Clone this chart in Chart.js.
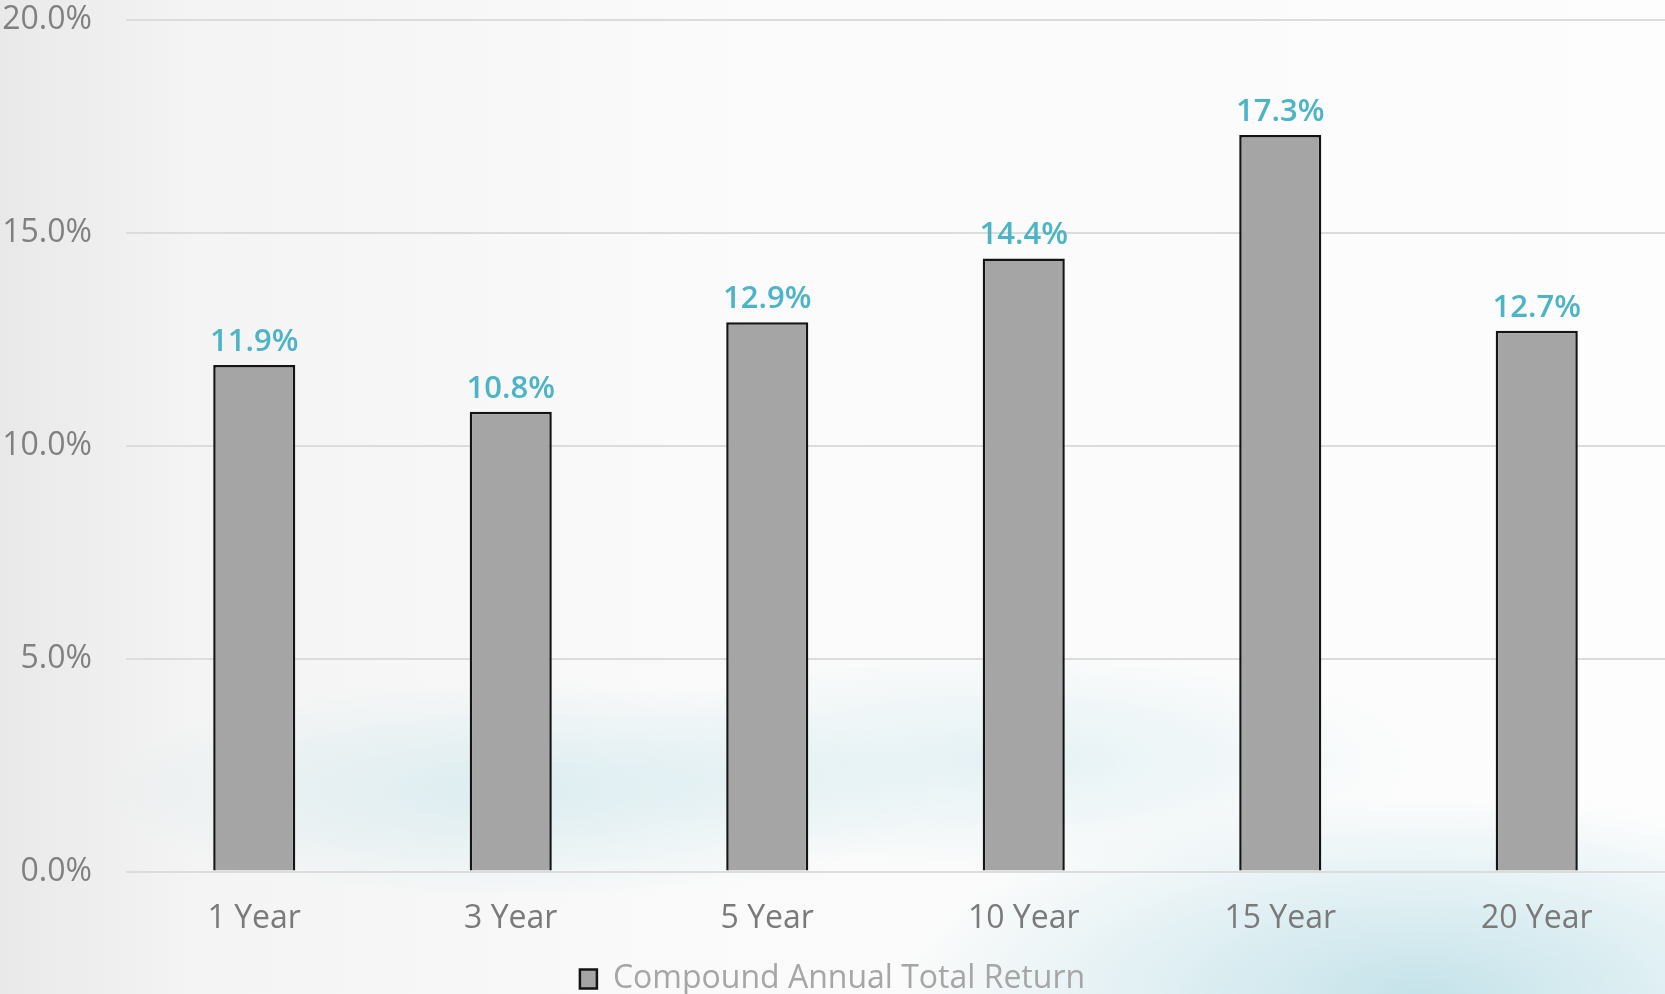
<!DOCTYPE html>
<html>
<head>
<meta charset="utf-8">
<script src="https://cdn.jsdelivr.net/npm/chart.js@4/dist/chart.umd.min.js"></script>
<style>
  html, body { margin: 0; padding: 0; }
  body {
    width: 1665px; height: 994px; overflow: hidden;
    background:
      radial-gradient(ellipse 520px 200px at 1420px 994px, rgba(160, 210, 222, 0.6), rgba(255,255,255,0) 100%),
      radial-gradient(ellipse 420px 110px at 520px 790px, rgba(190, 225, 232, 0.5), rgba(255,255,255,0) 100%),
      radial-gradient(ellipse 420px 110px at 1000px 760px, rgba(200, 230, 236, 0.45), rgba(255,255,255,0) 100%),
      linear-gradient(90deg, #e9e9e9 0px, #f4f4f4 200px, #fafafa 700px, #fdfdfd 1665px);
  }
  #wrap { position: relative; width: 1665px; height: 994px; }
</style>
</head>
<body>
<div id="wrap"><canvas id="chart" width="1665" height="994"></canvas></div>
<script>
const periods = ['1 Year', '3 Year', '5 Year', '10 Year', '15 Year', '20 Year'];
const returns = [11.9, 10.8, 12.9, 14.4, 17.3, 12.7];
const yTicks = [0, 5, 10, 15, 20];
const seriesName = 'Compound Annual Total Return';

// draws the % value above each bar
const valueLabels = {
  id: 'valueLabels',
  afterDatasetsDraw(chart) {
    const ctx = chart.ctx;
    const meta = chart.getDatasetMeta(0);
    ctx.save();
    ctx.font = '600 31px "Open Sans"';
    ctx.fillStyle = '#4bb4c6';
    ctx.textAlign = 'center';
    ctx.textBaseline = 'alphabetic';
    meta.data.forEach((bar, i) => {
      ctx.fillText(returns[i].toFixed(1) + '%', bar.x, bar.y - 14);
    });
    ctx.restore();
  }
};

const ctx = document.getElementById('chart').getContext('2d');
new Chart(ctx, {
  type: 'bar',
  data: {
    labels: periods,
    datasets: [{
      label: seriesName,
      data: returns,
      backgroundColor: '#a5a5a5',
      borderColor: '#141414',
      borderWidth: 2.5,
      barPercentage: 0.32,
      categoryPercentage: 1
    }]
  },
  options: {
    responsive: false,
    animation: false,
    layout: { padding: { left: 0, right: 0, top: 20, bottom: -11 } },
    scales: {
      x: {
        grid: { display: false },
        border: { display: false },
        ticks: {
          color: '#7a7a7a',
          font: { family: 'Open Sans', size: 32 },
          padding: 20
        }
      },
      y: {
        min: 0,
        max: 20,
        afterBuildTicks: (axis) => { axis.ticks = yTicks.map(v => ({ value: v })); },
        afterFit: (axis) => {
          axis.width = 126;
          axis.paddingTop = 0;
          axis.paddingBottom = 0;
        },
        grid: { color: '#dcdcdc', lineWidth: 2, drawTicks: false },
        border: { display: false },
        ticks: {
          color: '#808080',
          font: { family: 'Open Sans', size: 32 },
          padding: 34,
          callback: (v) => v.toFixed(1) + '%'
        }
      }
    },
    plugins: {
      legend: {
        position: 'bottom',
        labels: {
          color: '#a6a6a6',
          font: { family: 'Open Sans', size: 32 },
          boxWidth: 17,
          boxHeight: 19,
          padding: 5
        }
      },
      tooltip: { enabled: false }
    }
  },
  plugins: [valueLabels]
});
</script>
</body>
</html>
